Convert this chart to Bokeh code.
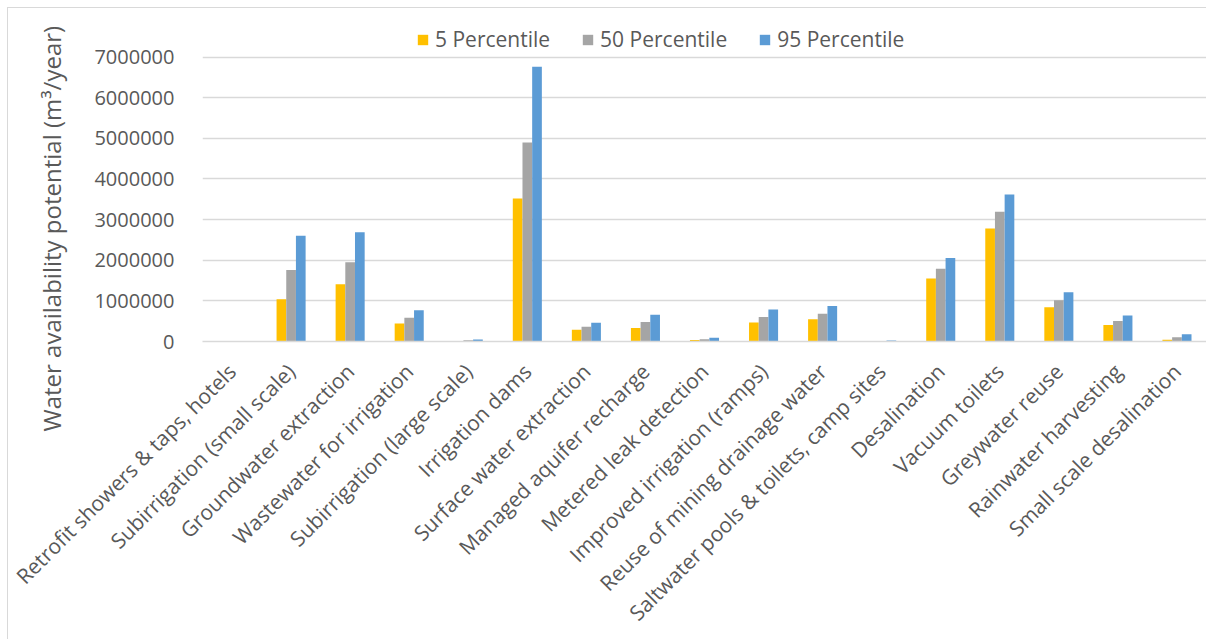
import math
from bokeh.plotting import figure
from bokeh.models import (FactorRange, Range1d, FixedTicker, NumeralTickFormatter,
                          Legend, LegendItem, ColumnDataSource, Title, InlineStyleSheet)
from bokeh.transform import dodge
from bokeh.embed import file_html
from bokeh.resources import INLINE

categories = [
    "Retrofit showers & taps, hotels",
    "Subirrigation (small scale)",
    "Groundwater extraction",
    "Wastewater for irrigation",
    "Subirrigation (large scale)",
    "Irrigation dams",
    "Surface water extraction",
    "Managed aquifer recharge",
    "Metered leak detection",
    "Improved irrigation (ramps)",
    "Reuse of mining drainage water",
    "Saltwater pools & toilets, camp sites",
    "Desalination",
    "Vacuum toilets",
    "Greywater reuse",
    "Rainwater harvesting",
    "Small scale desalination",
]
p5 = [4000, 1040000, 1410000, 446000, 15000, 3520000, 290000, 335000, 35000,
      465000, 545000, 8000, 1553000, 2780000, 846000, 407000, 40000]
p50 = [6000, 1760000, 1950000, 585000, 30000, 4900000, 365000, 480000, 55000,
       600000, 686000, 12000, 1790000, 3195000, 1016000, 504000, 106000]
p95 = [9000, 2600000, 2690000, 770000, 49000, 6760000, 460000, 660000, 95000,
       790000, 876000, 22000, 2057000, 3618000, 1211000, 642000, 179000]
series_names = ["5 Percentile", "50 Percentile", "95 Percentile"]
colors = ["#FFC000", "#A5A5A5", "#5B9BD5"]
y_ticks = [0, 1000000, 2000000, 3000000, 4000000, 5000000, 6000000, 7000000]
y_title = "Water availability potential  (m\u00b3/year)"

FONT = "Open Sans"
TXT = "#595959"

source = ColumnDataSource(data=dict(cat=categories, p5=p5, p50=p50, p95=p95))

# frame top leaves room above the 7 000 000 line for the legend
p = figure(x_range=FactorRange(factors=categories), y_range=Range1d(0, 7852000),
           width=1198, height=631, output_backend="svg", toolbar_location=None,
           min_border_left=194, min_border_right=0, min_border_top=14,
           min_border_bottom=290)
p.stylesheets = [InlineStyleSheet(css=":host { margin-left: 8px; margin-top: 8px; outline: 1px solid #d9d9d9; }")]
p.outline_line_color = None

bw = 0.164
renderers = []
for i, (col, name, c) in enumerate(zip(["p5", "p50", "p95"], series_names, colors)):
    r = p.vbar(x=dodge("cat", (i - 1) * bw, range=p.x_range), top=col, width=bw,
               source=source, fill_color=c, line_color=None)
    renderers.append(r)

legend = Legend(items=[LegendItem(label=n, renderers=[r]) for n, r in zip(series_names, renderers)],
                orientation="horizontal", location=(214, 288), padding=0, margin=0,
                border_line_color=None, background_fill_alpha=0,
                label_text_font=FONT, label_text_font_size="21px", label_text_color=TXT,
                glyph_width=13, glyph_height=13, label_standoff=6, spacing=31)
p.add_layout(legend)

# y axis
p.yaxis.ticker = FixedTicker(ticks=y_ticks)
p.yaxis.formatter = NumeralTickFormatter(format="0")
p.yaxis.axis_line_color = None
p.yaxis.major_tick_line_color = None
p.yaxis.minor_tick_line_color = None
p.yaxis.major_label_text_font = FONT
p.yaxis.major_label_text_font_size = "20px"
p.yaxis.major_label_text_color = TXT
p.yaxis.major_label_standoff = 22

# x axis
p.xaxis.major_label_orientation = math.pi / 4
p.xaxis.axis_line_color = "#D9D9D9"
p.xaxis.axis_line_width = 1.5
p.xaxis.major_tick_line_color = None
p.xaxis.minor_tick_line_color = None
p.xaxis.major_label_text_font = FONT
p.xaxis.major_label_text_font_size = "21px"
p.xaxis.major_label_text_color = TXT
p.xaxis.major_label_standoff = 20

p.xgrid.grid_line_color = None
p.ygrid.grid_line_color = "#D9D9D9"
p.ygrid.grid_line_width = 1.5

p.add_layout(Title(text=y_title, align="left", offset=-90, standoff=48,
                   text_font=FONT, text_font_size="24px", text_font_style="normal",
                   text_color=TXT), "left")

open("out.html", "w").write(file_html(p, INLINE))
